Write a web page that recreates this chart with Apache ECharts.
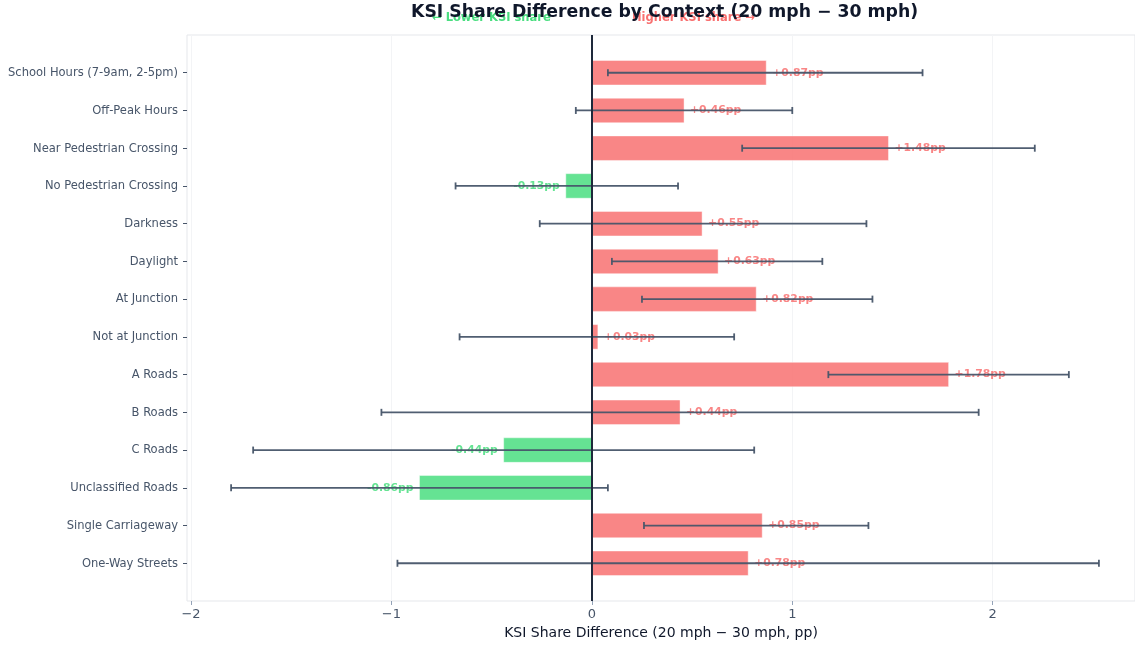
<!DOCTYPE html>
<html>
<head>
<meta charset="utf-8">
<script src="https://cdn.jsdelivr.net/npm/echarts@6/dist/echarts.min.js"></script>
<style>
  html, body { margin: 0; padding: 0; background: #fff; }
  #chart { width: 1135px; height: 645px; }
</style>
</head>
<body>
<div id="chart"></div>
<script>
var categories = [
  'School Hours (7-9am, 2-5pm)', 'Off-Peak Hours', 'Near Pedestrian Crossing',
  'No Pedestrian Crossing', 'Darkness', 'Daylight', 'At Junction',
  'Not at Junction', 'A Roads', 'B Roads', 'C Roads', 'Unclassified Roads',
  'Single Carriageway', 'One-Way Streets'
];
var diffs  = [0.87, 0.46, 1.48, -0.13, 0.55, 0.63, 0.82, 0.03, 1.78, 0.44, -0.44, -0.86, 0.85, 0.78];
var ciLow  = [0.08, -0.08, 0.75, -0.68, -0.26, 0.10, 0.25, -0.66, 1.18, -1.05, -1.69, -1.80, 0.26, -0.97];
var ciHigh = [1.65, 1.00, 2.21, 0.43, 1.37, 1.15, 1.40, 0.71, 2.38, 1.93, 0.81, 0.08, 1.38, 2.53];
var xTicks = [-2, -1, 0, 1, 2];

var RED = '#f87171', GREEN = '#4ade80', FONT = 'DejaVu Sans';

var rows = categories.map(function (c, i) { return [i, diffs[i], ciLow[i], ciHigh[i]]; });
var rowIdx = categories.map(function (c, i) { return i; });

var myChart = echarts.init(document.getElementById('chart'));

function renderRow(params, api) {
  var i = api.value(0), v = api.value(1), lo = api.value(2), hi = api.value(3);
  var base = api.coord([0, i]);
  var end = api.coord([v, i]);
  var h = api.size([0, 0.65])[1];
  var pLo = api.coord([lo, i]), pHi = api.coord([hi, i]);
  var pos = v >= 0;
  var col = pos ? RED : GREEN;
  var ebStyle = { stroke: '#475569', lineWidth: 1.8, opacity: 0.95 };
  return {
    type: 'group',
    children: [
      { type: 'rect',
        shape: { x: Math.min(base[0], end[0]), y: base[1] - h / 2, width: Math.abs(end[0] - base[0]), height: h },
        style: { fill: col, opacity: 0.85, stroke: '#fff', lineWidth: 0.5 } },
      { type: 'text',
        style: { x: end[0] + (pos ? 6 : -6), y: end[1], text: (pos ? '+' : '') + v.toFixed(2) + 'pp',
                 fill: col, opacity: 0.85, font: 'bold 10.8px "DejaVu Sans"',
                 align: pos ? 'left' : 'right', verticalAlign: 'middle' } },
      { type: 'line', shape: { x1: pLo[0], y1: pLo[1], x2: pHi[0], y2: pHi[1] }, style: ebStyle },
      { type: 'line', shape: { x1: pLo[0], y1: pLo[1] - 3.5, x2: pLo[0], y2: pLo[1] + 3.5 }, style: ebStyle },
      { type: 'line', shape: { x1: pHi[0], y1: pHi[1] - 3.5, x2: pHi[0], y2: pHi[1] + 3.5 }, style: ebStyle }
    ]
  };
}

var option = {
  backgroundColor: '#ffffff',
  animation: false,
  title: [
    { text: '← Lower KSI share', left: 432, top: 12, padding: 0,
      textStyle: { color: GREEN, fontSize: 11.5, fontWeight: 'bold', fontFamily: FONT } },
    { text: 'Higher KSI share →', left: 632, top: 12, padding: 0,
      textStyle: { color: RED, fontSize: 11.5, fontWeight: 'bold', fontFamily: FONT } },
    { text: 'KSI Share Difference by Context (20 mph − 30 mph)', left: 411, top: 4, padding: 0,
      textStyle: { color: '#0f172a', fontSize: 17.3, fontWeight: 'bold', fontFamily: FONT } }
  ],
  grid: {
    left: 187, right: 0, top: 35, bottom: 44,
    show: true, borderColor: '#e5e7eb', borderWidth: 1
  },
  xAxis: {
    type: 'value',
    min: -2.02, max: 2.71,
    name: 'KSI Share Difference (20 mph − 30 mph, pp)',
    nameLocation: 'middle', nameGap: 24,
    nameTextStyle: { color: '#0f172a', fontSize: 14, fontFamily: FONT },
    axisLine: { show: false, onZero: false },
    axisTick: { show: true, customValues: xTicks, length: 4, lineStyle: { color: '#94a3b8' } },
    axisLabel: {
      customValues: xTicks, color: '#475569', fontSize: 13, fontFamily: FONT, margin: 7,
      formatter: function (v) { return v < 0 ? '−' + Math.abs(v) : String(v); }
    },
    splitLine: { show: true, lineStyle: { color: '#f3f4f6', width: 1 } }
  },
  yAxis: {
    type: 'value',
    min: -1, max: 14, inverse: true,
    axisLine: { show: false, onZero: false },
    axisTick: { show: true, customValues: rowIdx, length: 4, lineStyle: { color: '#475569' } },
    axisLabel: {
      customValues: rowIdx, color: '#475569', fontSize: 12.8, fontFamily: 'DejaVu Sans Condensed', margin: 9,
      formatter: function (v) { return categories[v] || ''; }
    },
    splitLine: { show: false }
  },
  series: [
    {
      type: 'custom',
      renderItem: renderRow,
      encode: { x: [1, 2, 3], y: 0 },
      data: rows,
      markLine: {
        silent: true,
        symbol: ['none', 'none'],
        label: { show: false },
        lineStyle: { color: '#1e293b', width: 2, type: 'solid' },
        data: [{ xAxis: 0 }]
      }
    }
  ]
};
myChart.setOption(option);
</script>
</body>
</html>
